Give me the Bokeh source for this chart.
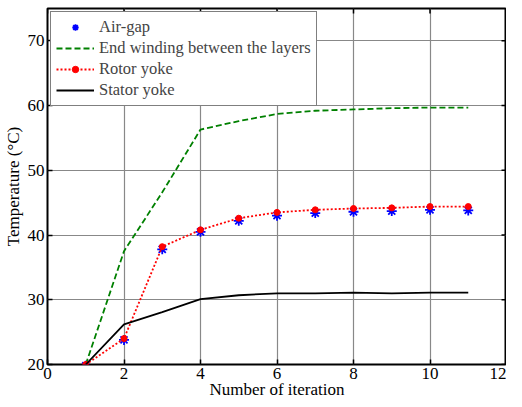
import math
from bokeh.plotting import figure
from bokeh.models import Range1d, Legend, LegendItem, FixedTicker
from bokeh.embed import file_html
from bokeh.resources import INLINE

iterations = [1, 2, 3, 4, 5, 6, 7, 8, 9, 10, 11]
air_gap = [19.8, 23.8, 37.8, 40.5, 42.2, 43.0, 43.4, 43.6, 43.7, 43.9, 43.8]
end_winding = [20.0, 37.5, 46.6, 56.3, 57.6, 58.7, 59.2, 59.4, 59.6, 59.7, 59.7]
rotor_yoke = [20.0, 24.0, 38.2, 40.8, 42.6, 43.5, 43.9, 44.1, 44.2, 44.4, 44.4]
stator_yoke = [20.0, 26.2, 28.1, 30.1, 30.7, 31.0, 31.0, 31.1, 31.0, 31.1, 31.1]
x_ticks = [0, 2, 4, 6, 8, 10, 12]
y_ticks = [20, 30, 40, 50, 60, 70]
x_lim = (0, 12)
y_lim = (20, 75)

FONT = "Liberation Serif"

p = figure(width=506, height=404, output_backend="svg", toolbar_location=None,
           x_range=Range1d(*x_lim), y_range=Range1d(*y_lim),
           min_border_left=47, min_border_right=0, min_border_top=8, min_border_bottom=40)
p.outline_line_color = "black"
p.outline_line_width = 2
p.background_fill_color = "white"

for ax in (p.xaxis[0], p.yaxis[0]):
    ax.major_tick_in = 5
    ax.major_tick_out = 0
    ax.minor_tick_line_color = None
    ax.axis_line_color = None
    ax.major_label_text_font = FONT
    ax.major_label_text_font_size = "17px"
    ax.major_label_text_color = "black"
    ax.axis_label_text_font = FONT
    ax.axis_label_text_font_size = "17px"
    ax.axis_label_text_font_style = "normal"
    ax.axis_label_text_color = "black"
    ax.major_tick_line_color = "black"
    ax.major_tick_line_width = 1.5

p.xaxis[0].ticker = FixedTicker(ticks=x_ticks)
p.yaxis[0].ticker = FixedTicker(ticks=y_ticks)
p.xaxis[0].axis_label = "Number of iteration"
p.yaxis[0].axis_label = "Temperature (°C)"
p.xaxis[0].major_label_standoff = 3
p.xaxis[0].axis_label_standoff = -2
p.yaxis[0].major_label_standoff = 3
p.yaxis[0].axis_label_standoff = 2

p.xgrid.ticker = FixedTicker(ticks=x_ticks)
p.ygrid.ticker = FixedTicker(ticks=y_ticks)
for g in (p.xgrid[0], p.ygrid[0]):
    g.grid_line_color = "#888888"
    g.grid_line_width = 1.2

# inward ticks on the right and top frame edges (half of each dash is clipped by the frame)
p.scatter([x_lim[1]] * len(y_ticks), y_ticks, marker="dash", size=10,
          line_color="black", line_width=1.5)
p.scatter(x_ticks, [y_lim[1]] * len(x_ticks), marker="dash", size=10, angle=math.pi / 2,
          line_color="black", line_width=1.5)

r_air = p.scatter(iterations, air_gap, marker="asterisk", size=10, line_color="blue", line_width=1.8)
r_end = p.line(iterations, end_winding, line_color="#008000", line_width=1.8, line_dash="6 3")
r_rot_l = p.line(iterations, rotor_yoke, line_color="red", line_width=1.8, line_dash="2 2")
r_rot_m = p.scatter(iterations, rotor_yoke, marker="circle", size=6, fill_color="red", line_color="red")
r_sta = p.line(iterations, stator_yoke, line_color="black", line_width=1.8)

legend = Legend(items=[
    LegendItem(label="Air-gap", renderers=[r_air]),
    LegendItem(label="End winding between the layers", renderers=[r_end]),
    LegendItem(label="Rotor yoke", renderers=[r_rot_l, r_rot_m]),
    LegendItem(label="Stator yoke", renderers=[r_sta]),
], location="top_left")
legend.label_text_font = FONT
legend.label_text_font_size = "16.5px"
legend.label_height = 16
legend.glyph_width = 38
legend.glyph_height = 16
legend.spacing = 1
legend.padding = 5
legend.margin = 3
legend.label_standoff = 5
legend.border_line_color = "black"
legend.border_line_width = 1.5
legend.background_fill_alpha = 1.0
p.add_layout(legend)

open("out.html", "w").write(file_html(p, INLINE))
